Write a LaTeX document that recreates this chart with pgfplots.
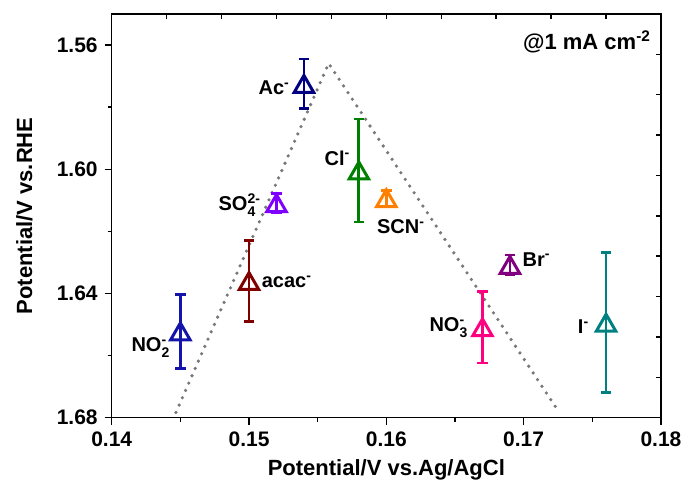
\documentclass[border=0pt]{standalone}
\usepackage{amsmath}
\usepackage{fontspec}
\setmainfont{Liberation Sans}
\usepackage{pgfplots}
\pgfplotsset{compat=1.18}

\definecolor{cAc}{RGB}{0,0,128}
\definecolor{cNOtwo}{RGB}{20,20,170}
\definecolor{cacac}{RGB}{128,0,0}
\definecolor{cSO}{RGB}{128,0,255}
\definecolor{cCl}{RGB}{0,128,0}
\definecolor{cSCN}{RGB}{255,128,0}
\definecolor{cNOthree}{RGB}{255,0,128}
\definecolor{cBr}{RGB}{128,0,128}
\definecolor{cI}{RGB}{0,128,128}
\definecolor{volc}{RGB}{120,120,120}

\pgfplotsset{
  % error bar with caps, no marker
  anionbar/.style={
    draw=#1, line width=1.4pt, mark=none,
    error bars/.cd, y dir=both, y explicit,
    error bar style={line width=1.4pt, draw=#1},
    error mark=-,
    error mark options={rotate=90, line width=1.4pt, mark size=2.6pt, draw=#1},
  },
  % open triangle drawn over the bar, centred on its box
  anionmark/.style={
    only marks, mark=triangle, mark size=5.6pt,
    mark options={solid, fill=white, draw=#1, line width=1.5pt, yshift=-1.4pt},
  },
}

\begin{document}
\begin{tikzpicture}
\begin{axis}[
  at={(0,0)}, anchor=south west,
  scale only axis, width=274.65pt, height=201.85pt,
  font=\bfseries,
  xmin=0.14, xmax=0.18, ymin=1.55, ymax=1.68,
  y dir=reverse,
  xtick={0.14,0.15,...,0.18}, ytick={1.56,1.60,1.64,1.68},
  minor xtick={0.145,0.155,0.165,0.175},
  minor ytick={1.58,1.62,1.66},
  xtick pos=bottom, ytick pos=left,
  tick align=outside,
  major tick length=3.5pt, minor tick length=2pt,
  axis line style={line width=0.75pt},
  every tick/.style={line width=0.75pt, black},
  tick label style={font=\bfseries\fontsize{10.5}{12}\selectfont},
  /pgf/number format/assume math mode=true,
  xticklabel style={/pgf/number format/.cd, fixed, fixed zerofill, precision=2},
  yticklabel style={/pgf/number format/.cd, fixed, fixed zerofill, precision=2},
  xlabel={Potential/V vs.Ag/AgCl},
  ylabel={Potential/V vs.RHE},
  label style={font=\bfseries\fontsize{11}{13}\selectfont},
  xlabel style={at={(axis description cs:0.5,-0.1296)}, anchor=center},
  ylabel style={at={(axis description cs:-0.1588,0.5)}, anchor=center},
  clip=false,
]
% volcano guide
\addplot[volc, line width=1.8pt, line cap=round, dash pattern=on 0pt off 4pt, mark=none]
  coordinates {(0.14468,1.6783) (0.1558,1.5659) (0.17259,1.6783)};

% anion data: potential vs. Ag/AgCl, potential vs. RHE, error
\addplot[anionbar=cAc]      coordinates {(0.154,1.5725) +- (0,0.0080)};
\addplot[anionmark=cAc]     coordinates {(0.154,1.5725)};
\addplot[anionbar=cNOtwo]   coordinates {(0.145,1.6522) +- (0,0.0120)};
\addplot[anionmark=cNOtwo]  coordinates {(0.145,1.6522)};
\addplot[anionbar=cacac]    coordinates {(0.150,1.6360) +- (0,0.0130)};
\addplot[anionmark=cacac]   coordinates {(0.150,1.6360)};
\addplot[anionbar=cSO]      coordinates {(0.152,1.6109) +- (0,0.0030)};
\addplot[anionmark=cSO]     coordinates {(0.152,1.6109)};
\addplot[anionbar=cCl]      coordinates {(0.158,1.6004) +- (0,0.0166)};
\addplot[anionmark=cCl]     coordinates {(0.158,1.6004)};
\addplot[anionbar=cSCN]     coordinates {(0.160,1.6093) +- (0,0.0025)};
\addplot[anionmark=cSCN]    coordinates {(0.160,1.6093)};
\addplot[anionbar=cNOthree] coordinates {(0.167,1.6509) +- (0,0.0115)};
\addplot[anionmark=cNOthree] coordinates {(0.167,1.6509)};
\addplot[anionbar=cBr]      coordinates {(0.169,1.6308) +- (0,0.0032)};
\addplot[anionmark=cBr]     coordinates {(0.169,1.6308)};
\addplot[anionbar=cI]       coordinates {(0.176,1.6494) +- (0,0.0226)};
\addplot[anionmark=cI]      coordinates {(0.176,1.6494)};

\begin{scope}[every node/.style={font=\bfseries\fontsize{10}{12}\selectfont, inner sep=0pt}]
\node[anchor=east] at (axis cs:0.1530,1.5738) {Ac$^{\text{-}}$};
\node[anchor=east] at (axis cs:0.1574,1.5964) {Cl$^{\text{-}}$};
\node[anchor=west] at (axis cs:0.1593,1.6185) {SCN$^{\text{-}}$};
\node[anchor=east] at (axis cs:0.1509,1.6115) {SO$^{\text{2-}}_{\text{4}}$};
\node[anchor=west] at (axis cs:0.1509,1.6362) {acac$^{\text{-}}$};
\node[anchor=east] at (axis cs:0.1443,1.6575) {NO$^{\text{-}}_{\text{2}}$};
\node[anchor=east] at (axis cs:0.1660,1.6510) {NO$^{\text{-}}_{\text{3}}$};
\node[anchor=west] at (axis cs:0.1699,1.6290) {Br$^{\text{-}}$};
\node[anchor=east] at (axis cs:0.1748,1.6508) {I$^{\text{-}}$};
\node[anchor=east, font=\bfseries\fontsize{11}{13}\selectfont] at (axis cs:0.1793,1.5589) {@1 mA cm$^{\text{-2}}$};
\end{scope}
\end{axis}

% inner ticks along the top and right edges
\begin{axis}[
  at={(0,0)}, anchor=south west,
  scale only axis, width=274.65pt, height=201.85pt,
  xmin=0, xmax=10, ymin=0, ymax=10,
  axis line style={draw=none},
  xtick={1,...,9}, ytick={1,...,9},
  xtick pos=top, ytick pos=right,
  tick align=inside, major tick length=2.5pt,
  every tick/.style={line width=0.75pt, black},
  xticklabels={}, yticklabels={},
]
\end{axis}
\pgfresetboundingbox
\path[use as bounding box] (-55.85pt,-37.65pt) rectangle (287.15pt,208.85pt);
\end{tikzpicture}
\end{document}
